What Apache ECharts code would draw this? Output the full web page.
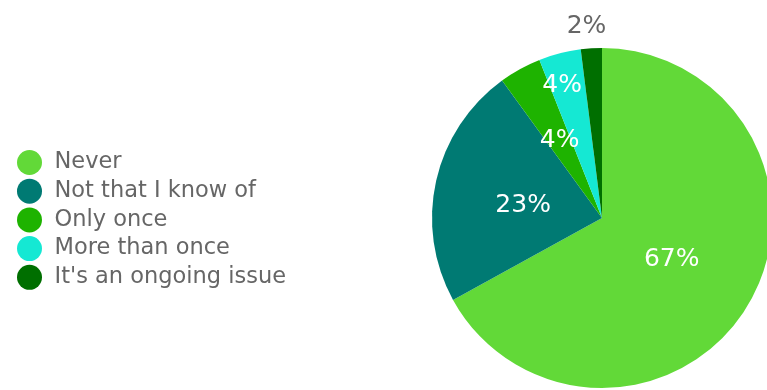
<!DOCTYPE html>
<html>
<head>
<meta charset="utf-8">
<script src="https://cdn.jsdelivr.net/npm/echarts@6/dist/echarts.min.js"></script>
<style>
  html, body { margin: 0; padding: 0; background: #fff; }
  #chart { width: 767px; height: 390px; }
</style>
</head>
<body>
<div id="chart"></div>
<script>
// Survey answers and their shares (percent)
const categories = ['Never', 'Not that I know of', 'Only once', 'More than once', "It's an ongoing issue"];
const shares = [67, 23, 4, 4, 2];
const sliceColors = ['#62D938', '#007A73', '#1EB300', '#15E8D3', '#006F00'];

const FONT = '"DejaVu Sans", "Noto Sans", sans-serif';

const chart = echarts.init(document.getElementById('chart'), null, { renderer: 'canvas' });

chart.setOption({
  animation: false,
  legend: {
    orient: 'vertical',
    left: 12,
    top: 145,
    icon: 'circle',
    itemWidth: 26,
    itemHeight: 25,
    itemGap: 3.7,
    textStyle: { fontFamily: FONT, fontSize: 22.5, lineHeight: 25, color: '#666666', padding: [0, 0, 0, 7] },
    data: categories
  },
  series: [{
    type: 'pie',
    center: [602, 218],
    radius: [0, 170],
    startAngle: 90,
    clockwise: true,
    avoidLabelOverlap: false,
    label: {
      show: true,
      position: 'inside',
      formatter: '{c}%',
      fontFamily: FONT,
      fontSize: 25,
      color: '#ffffff'
    },
    labelLine: { show: false },
    labelLayout: function (p) {
      // pull the two big labels slightly in; lift the small-slice labels toward the rim / above the pie
      if (p.dataIndex === 0) return { dx: -6, dy: -3 };
      if (p.dataIndex === 1) return { dx: 7, dy: 7 };
      if (p.dataIndex === 3) return { dx: -18, dy: -47 };
      if (p.dataIndex === 4) return { dx: -10, dy: -104 };
      return {};
    },
    data: categories.map((name, i) => ({
      name: name,
      value: shares[i],
      itemStyle: { color: sliceColors[i] },
      label: i === 4 ? { color: '#666666' } : undefined
    }))
  }]
});
</script>
</body>
</html>
